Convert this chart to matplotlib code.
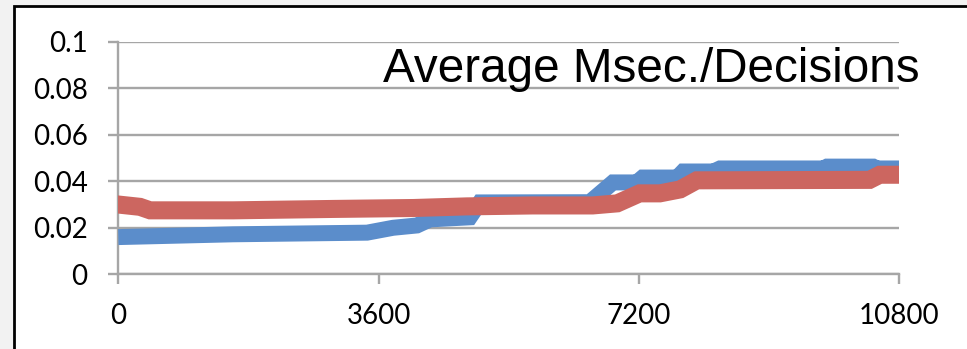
import matplotlib
matplotlib.use("Agg")
import matplotlib.pyplot as plt
from matplotlib.patches import Rectangle

# Elapsed time (seconds) and average milliseconds per decision for two runs
blue_time = [0, 1590, 3440, 3800, 4130, 4310, 4860, 5000, 6520, 6840, 7170,
             7250, 7730, 7810, 8230, 8320, 9750, 9800, 10440, 10490, 10800]
blue_msec = [0.0160, 0.0172, 0.0179, 0.0200, 0.0210, 0.0236, 0.0245, 0.0309,
             0.0310, 0.0395, 0.0395, 0.0416, 0.0416, 0.0442, 0.0442, 0.0455,
             0.0455, 0.0463, 0.0463, 0.0455, 0.0455]

red_time = [0, 300, 440, 1590, 2970, 4080, 4820, 5730, 6560, 6900, 7210,
            7490, 7770, 8000, 10390, 10530, 10800]
red_msec = [0.0300, 0.0290, 0.0275, 0.0275, 0.0281, 0.0285, 0.0292, 0.0296,
            0.0296, 0.0305, 0.0348, 0.0348, 0.0365, 0.0404, 0.0406, 0.0428,
            0.0428]

x_ticks = [0, 3600, 7200, 10800]
y_ticks = [0, 0.02, 0.04, 0.06, 0.08, 0.1]
y_tick_labels = ["0", "0.02", "0.04", "0.06", "0.08", "0.1"]
title = "Average Msec./Decisions"

W, H = 967, 349
fig = plt.figure(figsize=(W / 100, H / 100), dpi=100)
fig.patch.set_facecolor("#f2f2f2")

# White chart area with a black frame along the left and top
fig.patches.append(Rectangle((14 / W, -0.2), 1.2, 1.2 - 6 / H,
                             transform=fig.transFigure, facecolor="white",
                             edgecolor="black", linewidth=2.0, zorder=-1))

ax = fig.add_axes([118.3 / W, (H - 274.3) / H, (899.3 - 118.3) / W,
                   (274.3 - 41.7) / H])
ax.set_facecolor("none")

grid_color = "#a6a6a6"
ax.plot(blue_time, blue_msec, color="#5b8dcb", linewidth=11.5,
        solid_capstyle="butt", solid_joinstyle="miter", zorder=3)
ax.plot(red_time, red_msec, color="#cc6660", linewidth=13,
        solid_capstyle="projecting", solid_joinstyle="miter", zorder=4)

ax.set_xlim(0, 10800)
ax.set_ylim(0, 0.1)
ax.set_xticks(x_ticks)
ax.set_xticklabels([str(t) for t in x_ticks])
ax.set_yticks(y_ticks)
ax.set_yticklabels(y_tick_labels)

ax.yaxis.grid(True, color=grid_color, linewidth=1.7)
ax.xaxis.grid(False)
for side in ("top", "right"):
    ax.spines[side].set_visible(False)
for side in ("left", "bottom"):
    ax.spines[side].set_color(grid_color)
    ax.spines[side].set_linewidth(1.7)
ax.tick_params(axis="both", direction="out", length=7, width=1.7,
               color=grid_color, labelsize=20, labelcolor="black")
ax.tick_params(axis="y", pad=15)
ax.tick_params(axis="x", pad=14)
for lab in ax.get_xticklabels() + ax.get_yticklabels():
    lab.set_fontfamily("Lato")

fig.text(920 / W, (H - 82) / H, title, ha="right", va="baseline",
         fontsize=34.3, family="Liberation Sans", color="black")

fig.savefig("out.png", dpi=100, facecolor=fig.get_facecolor())
